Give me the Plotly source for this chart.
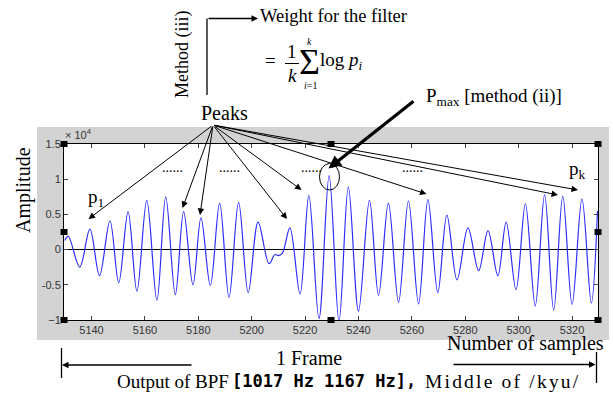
import plotly.graph_objects as go

# ---- data ----
sample_idx = [5130.0, 5131.3, 5135.6, 5139.4, 5143.0, 5146.9, 5150.2, 5153.7, 5157.0, 5160.7,
              5164.5, 5167.8, 5171.4, 5174.5, 5178.0, 5181.0, 5184.5, 5188.0, 5191.5, 5195.1,
              5198.7, 5202.4, 5206.5, 5208.7, 5210.0, 5211.5, 5214.3, 5218.1, 5221.4, 5225.2,
              5229.0, 5232.7, 5236.2, 5240.0, 5244.1, 5247.5, 5251.2, 5255.0, 5258.7, 5262.5,
              5266.0, 5269.7, 5273.1, 5276.9, 5281.0, 5285.0, 5288.5, 5292.2, 5295.3, 5299.0,
              5302.5, 5306.2, 5309.7, 5313.1, 5316.5, 5320.0, 5323.7, 5327.2, 5329.5]
amplitude_e4 = [0.13, 0.19, -0.25, 0.29, -0.37, 0.41, -0.47, 0.54, -0.59, 0.70,
                -0.72, 0.75, -0.64, 0.54, -0.50, 0.45, -0.51, 0.66, -0.68, 0.67,
                -0.61, 0.39, -0.20, -0.07, -0.085, -0.05, 0.31, -0.63, 0.77, -0.98,
                1.05, -1.02, 0.89, -0.87, 0.70, -0.65, 0.66, -0.75, 0.69, -0.77,
                0.71, -0.61, 0.49, -0.43, 0.31, -0.30, 0.27, -0.37, 0.39, -0.57,
                0.65, -0.80, 0.78, -0.86, 0.76, -0.78, 0.72, -0.76, 0.55]
x_ticks = [5140, 5160, 5180, 5200, 5220, 5240, 5260, 5280, 5300, 5320]
y_ticks = [-1, -0.5, 0, 0.5, 1, 1.5]
y_ticktext = ["\u22121", "-0.5", "0", "0.5", "1", "1.5"]

W, H = 613, 400
L, R, T, B = 64, 15, 144, 80
PW, PH = W - L - R, H - T - B

def px(x):
    return (x - L) / PW

def py(y):
    return (H - B - y) / PH

SERIF = "Liberation Serif"
SANS = "Liberation Sans"

fig = go.Figure()
fig.add_trace(go.Scatter(x=sample_idx, y=amplitude_e4, mode="lines",
                         line=dict(color="rgb(45,45,255)", width=1.2, shape="spline"),
                         hoverinfo="skip"))

shapes = []
# gray figure panel + white axes area
shapes.append(dict(type="rect", xref="paper", yref="paper", x0=px(37), x1=px(609), y0=py(340), y1=py(127),
                   fillcolor="#d3d3d3", line=dict(width=0), layer="below"))
shapes.append(dict(type="rect", xref="paper", yref="paper", x0=0, x1=1, y0=0, y1=1,
                   fillcolor="white", line=dict(width=0), layer="below"))
# selection handles
for hx in (0, 0.5, 1):
    for hy in (0, 0.5, 1):
        if hx == 0.5 and hy == 0.5:
            continue
        cx, cy = L + hx * PW, H - B - hy * PH
        shapes.append(dict(type="rect", xref="paper", yref="paper",
                           x0=px(cx - 3.5), x1=px(cx + 3.5), y0=py(cy + 3), y1=py(cy - 3),
                           fillcolor="black", line=dict(width=0)))
# ellipse around P_max
shapes.append(dict(type="circle", xref="paper", yref="paper", x0=px(319.5), x1=px(339.5),
                   y0=py(190), y1=py(163.5), line=dict(color="black", width=1)))
# method (iii) bracket vertical line
shapes.append(dict(type="line", xref="paper", yref="paper", x0=px(207), x1=px(207),
                   y0=py(95), y1=py(18.5), line=dict(color="black", width=1.3)))
# fraction bar
shapes.append(dict(type="line", xref="paper", yref="paper", x0=px(285), x1=px(299),
                   y0=py(63.5), y1=py(63.5), line=dict(color="black", width=1)))
# frame bars
shapes.append(dict(type="line", xref="paper", yref="paper", x0=px(61.5), x1=px(61.5),
                   y0=py(378), y1=py(348), line=dict(color="black", width=1.3)))
shapes.append(dict(type="line", xref="paper", yref="paper", x0=px(596.5), x1=px(596.5),
                   y0=py(383), y1=py(352), line=dict(color="black", width=1.3)))

ann = []

def text(t, x, y, size=19, family=SERIF, xanchor="center", angle=0, color="black", weight=None):
    f = dict(family=family, size=size, color=color)
    if weight:
        f["weight"] = weight
    ann.append(dict(text=t, x=px(x), y=py(y), xref="paper", yref="paper", showarrow=False,
                    xanchor=xanchor, yanchor="middle", textangle=angle, font=f))

def arrow(tx, ty, hx, hy, width=1.0, size=1.2, head=2):
    ann.append(dict(text="", x=px(hx), y=py(hy), xref="paper", yref="paper", showarrow=True,
                    ax=tx - hx, ay=ty - hy, arrowhead=head, arrowsize=size, arrowwidth=width,
                    arrowcolor="black", standoff=0, startstandoff=0))

# Titles / labels
text("Method (iii)", 183, 54, size=18, angle=-90)
text("Weight for the filter", 258, 16, size=18.5, xanchor="left")
arrow(207, 18.5, 258, 18.5, width=1.3, size=1.0)
text("=", 270, 61, size=19)
text("1", 292, 51, size=19)
text("<i>k</i>", 292, 75, size=19)
text("\u03a3", 309, 62, size=36)
text("<i>k</i>", 309, 41, size=10)
text("<i>i</i>=1", 310, 85, size=10)
text("log <i>p</i><sub><i>i</i></sub>", 318, 61, size=19, xanchor="left")
text("Peaks", 224, 113, size=20)
text("P<sub>max</sub> [method (ii)]", 424, 97, size=19, xanchor="left")
text("Amplitude", 23, 190, size=20, angle=-90)
text("\u00d7 10<sup>4</sup>", 63, 134, size=11, family=SANS, xanchor="left", color="#333")
text("p<sub>1</sub>", 86, 198, size=19, xanchor="left")
text("p<sub>k</sub>", 567, 170, size=19, xanchor="left")
for dx in (160, 217, 299, 400):
    text("......", dx, 167, size=14, xanchor="left")
text("Number of samples", 525, 343, size=20)
text("1 Frame", 309, 358, size=20)
text("Output of BPF", 115, 381, size=19, xanchor="left")
text("[1017 Hz 1167 Hz],", 230, 381, size=17, family="DejaVu Sans Mono", xanchor="left", weight="bold")
text('<span style="letter-spacing:2.2px">Middle of /kyu/</span>', 423, 381, size=19.5, xanchor="left")

# Peaks arrows
ox, oy = 213, 125
for hx, hy in [(88.5, 219), (182.5, 208), (200, 215), (287, 219), (301.5, 190),
               (426.5, 194), (558, 195), (578, 190)]:
    arrow(ox, oy, hx, hy, width=1.0, size=1.3)
# P_max thick arrow
arrow(415, 100, 328.5, 168.5, width=3.2, size=0.8)
# frame arrows
arrow(193, 365, 62, 365, width=1.3, size=1.0)
arrow(452, 364.5, 595.5, 364.5, width=1.3, size=1.0)

fig.update_layout(
    width=W, height=H, margin=dict(l=L, r=R, t=T, b=B, pad=0),
    paper_bgcolor="white", plot_bgcolor="white", showlegend=False,
    shapes=shapes, annotations=ann,
    xaxis=dict(range=[5129.7, 5329.7], tickvals=x_ticks, ticks="inside", ticklen=4,
               showline=True, linecolor="black", linewidth=1, mirror="ticks",
               showgrid=False, zeroline=False, tickfont=dict(family=SANS, size=11, color="#333")),
    yaxis=dict(range=[-1, 1.5], tickvals=y_ticks, ticktext=y_ticktext, ticks="inside", ticklen=4,
               showline=True, linecolor="black", linewidth=1, mirror="ticks",
               showgrid=False, zeroline=True, zerolinecolor="black", zerolinewidth=1,
               tickfont=dict(family=SANS, size=11, color="#333")),
)

fig.write_html("out.html", config={"displayModeBar": False},
               post_script="document.body.style.margin='0';document.body.style.overflow='hidden';")
